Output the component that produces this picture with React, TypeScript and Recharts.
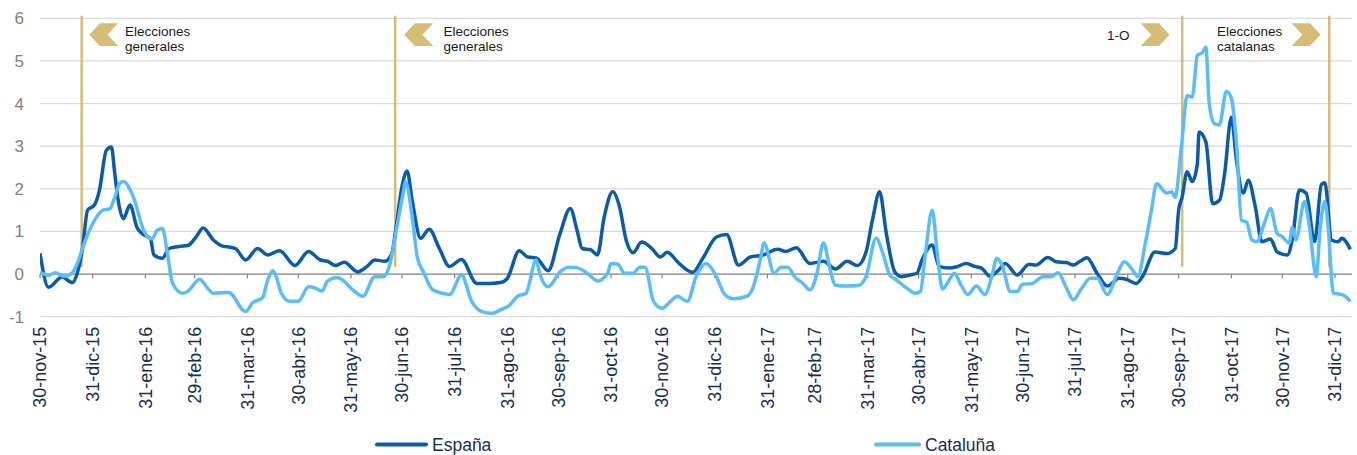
import React from 'react';
import { LineChart, Line, XAxis, YAxis, CartesianGrid, ReferenceLine } from 'recharts';

// x = days since 30-nov-2015
const tickDays = [0, 31, 62, 91, 122, 152, 183, 213, 244, 275, 305, 336, 366, 397, 428, 456, 487, 517, 548, 578, 609, 640, 670, 701, 731, 762];
const tickLabels = ['30-nov-15', '31-dic-15', '31-ene-16', '29-feb-16', '31-mar-16', '30-abr-16', '31-may-16', '30-jun-16', '31-jul-16', '31-ago-16', '30-sep-16', '31-oct-16', '30-nov-16', '31-dic-16', '31-ene-17', '28-feb-17', '31-mar-17', '30-abr-17', '31-may-17', '30-jun-17', '31-jul-17', '31-ago-17', '30-sep-17', '31-oct-17', '30-nov-17', '31-dic-17'];
const yTicks = [-1, 0, 1, 2, 3, 4, 5, 6];

const espana: [number, number][] = [
  [0, 0.49], [5, -0.31], [13, -0.07], [19, -0.2], [22, 0.03], [25, 0.6], [28, 1.5], [32, 1.62], [35, 1.97], [39, 2.9],
  [42, 2.98], [44, 2.36], [46, 1.73], [49, 1.3], [53, 1.62], [57, 1.1], [60, 0.95], [65, 0.83], [67, 0.45], [72, 0.37],
  [76, 0.6], [82, 0.65], [87, 0.67], [92, 0.88], [96, 1.08], [102, 0.8], [108, 0.65], [112, 0.63], [115, 0.6], [121, 0.33],
  [128, 0.6], [134, 0.45], [141, 0.55], [150, 0.2], [158, 0.53], [165, 0.33], [169, 0.3], [174, 0.2], [179, 0.28], [187, 0.05],
  [193, 0.2], [197, 0.33], [203, 0.3], [207, 0.48], [209, 0.95], [213, 2.05], [216, 2.42], [219, 1.73], [224, 0.84], [229, 1.05],
  [235, 0.6], [241, 0.18], [248, 0.34], [257, -0.22], [265, -0.22], [271, -0.2], [275, -0.1], [282, 0.55], [287, 0.4], [292, 0.38],
  [299, 0.08], [306, 0.95], [312, 1.54], [316, 1.03], [319, 0.6], [324, 0.57], [328, 0.45], [332, 1.34], [337, 1.93], [341, 1.58],
  [345, 0.78], [349, 0.5], [354, 0.75], [360, 0.6], [365, 0.4], [369, 0.51], [376, 0.25], [384, 0.04], [390, 0.37], [398, 0.87],
  [404, 0.93], [411, 0.21], [418, 0.4], [425, 0.44], [434, 0.58], [439, 0.53], [445, 0.62], [453, 0.25], [461, 0.3], [468, 0.12],
  [475, 0.3], [481, 0.2], [486, 0.51], [490, 1.3], [494, 1.93], [498, 0.95], [503, 0.05], [507, -0.06], [512, -0.02], [516, 0.02],
  [519, 0.33], [525, 0.68], [529, 0.18], [535, 0.14], [540, 0.18], [545, 0.25], [550, 0.18], [554, 0.14], [559, -0.05], [564, 0.09],
  [568, 0.25], [575, -0.02], [582, 0.23], [586, 0.21], [593, 0.39], [598, 0.29], [604, 0.27], [608, 0.21], [612, 0.3], [616, 0.38],
  [622, 0.02], [628, -0.28], [635, -0.1], [639, -0.12], [645, -0.22], [649, -0.04], [656, 0.52], [663, 0.48], [668, 0.6], [670, 1.5],
  [672, 1.8], [675, 2.4], [678, 2.17], [681, 2.59], [682, 3.33], [686, 3.1], [690, 1.65], [694, 1.73], [697, 2.34], [701, 3.68],
  [704, 2.67], [708, 1.9], [711, 2.2], [715, 1.6], [719, 0.76], [724, 0.82], [728, 0.52], [734, 0.45], [737, 0.84], [741, 1.97],
  [745, 1.9], [750, 0.76], [754, 2.1], [756, 2.14], [760, 0.8], [764, 0.76], [766, 0.84], [771, 0.58],
];

const cataluna: [number, number][] = [
  [0, 0.05], [5, -0.03], [9, 0.03], [14, -0.05], [19, 0.03], [22, 0.25], [26, 0.72], [34, 1.38], [37, 1.5], [41, 1.53],
  [44, 1.8], [47, 2.13], [49, 2.17], [55, 1.8], [61, 1.03], [64, 0.85], [66, 0.83], [69, 1.03], [72, 1.07], [75, 0.48],
  [78, -0.22], [84, -0.45], [87, -0.4], [94, -0.12], [98, -0.3], [102, -0.45], [111, -0.43], [121, -0.88], [125, -0.68], [131, -0.55],
  [134, -0.14], [137, 0.08], [139, -0.06], [142, -0.45], [147, -0.64], [152, -0.64], [158, -0.3], [162, -0.33], [166, -0.4], [169, -0.17],
  [175, -0.08], [178, -0.14], [184, -0.37], [190, -0.52], [197, -0.06], [202, -0.06], [206, 0.25], [210, 1.1], [214, 1.97], [215, 2.17],
  [219, 1.34], [222, 0.4], [226, 0.02], [231, -0.37], [238, -0.46], [241, -0.48], [248, -0.02], [254, -0.64], [260, -0.88], [266, -0.92],
  [271, -0.84], [276, -0.74], [281, -0.52], [286, -0.45], [292, 0.33], [294, 0.02], [299, -0.3], [306, 0.05], [311, 0.16], [316, 0.15],
  [322, 0.02], [328, -0.16], [334, 0.02], [336, 0.25], [340, 0.23], [344, 0.02], [349, 0.02], [353, 0.16], [356, 0.16], [361, -0.64],
  [366, -0.8], [371, -0.64], [375, -0.52], [381, -0.64], [386, -0.06], [392, 0.25], [397, 0.02], [403, -0.48], [408, -0.58], [416, -0.52],
  [419, -0.37], [424, 0.37], [426, 0.73], [432, 0.02], [436, 0.16], [440, 0.16], [444, -0.06], [449, -0.22], [453, -0.37], [457, -0.02],
  [461, 0.73], [465, 0.09], [468, -0.26], [475, -0.28], [482, -0.26], [486, -0.06], [492, 0.84], [496, 0.48], [500, -0.02], [504, -0.14],
  [510, -0.33], [515, -0.45], [518, -0.41], [521, 0.48], [525, 1.5], [528, 0.48], [531, -0.35], [535, -0.14], [538, 0.02], [542, -0.26],
  [546, -0.48], [551, -0.28], [556, -0.48], [560, -0.06], [563, 0.37], [566, 0.22], [571, -0.41], [575, -0.41], [578, -0.24], [584, -0.22],
  [590, -0.06], [595, -0.06], [599, 0.03], [604, -0.33], [608, -0.6], [613, -0.33], [618, -0.1], [622, -0.1], [628, -0.48], [634, 0.02],
  [638, 0.29], [643, 0.09], [646, -0.06], [650, 0.64], [654, 1.5], [657, 2.12], [663, 1.9], [666, 1.93], [668, 1.8], [671, 2.75],
  [672, 3.14], [675, 4.19], [678, 4.15], [681, 5.13], [684, 5.2], [686, 5.32], [688, 4.0], [691, 3.53], [694, 3.5], [698, 4.28],
  [701, 4.13], [704, 3.08], [707, 1.26], [710, 1.22], [713, 0.8], [716, 0.76], [721, 1.26], [724, 1.54], [728, 0.95], [731, 0.88],
  [735, 0.73], [737, 1.1], [739, 0.8], [744, 1.7], [747, 1.1], [751, -0.06], [753, 0.95], [756, 1.7], [758, 1.1], [761, -0.45],
  [765, -0.47], [768, -0.52], [771, -0.64],
];

const seriesNames = ['España', 'Cataluña'];
const seriesColors = ['#0c5ba9', '#5bbdf6'];

const eventDays = [24.5, 209, 672.1, 758.6];
const eventTexts = [['Elecciones', 'generales'], ['Elecciones', 'generales'], ['1-O'], ['Elecciones', 'catalanas']];
const eventDirs = ['left', 'left', 'right', 'right'];

// annotation layout (offsets relative to the event line)
const eventChevronX = [7.6, 9, -41.6, -37.6];
const eventTextX = [43.3, 48.3, -52.8, -112.3];
const eventTextAnchor = ['start', 'start', 'end', 'start'];

const GOLD = '#d6bc74';
const FONT = '"Liberation Sans", Arial, sans-serif';

const toData = (pairs: [number, number][]) => pairs.map(([d, v]) => ({ d, v }));

const XTick = (props: any) => {
  const { x, y, payload } = props;
  const idx = tickDays.indexOf(payload.value);
  return (
    <text
      transform={`translate(${x},${y + 10}) rotate(-90)`}
      textAnchor="end"
      dy="0.35em"
      fontSize={18}
      fontFamily={FONT}
      fill="#1b2d4f"
    >
      {tickLabels[idx]}
    </text>
  );
};

const makeEventLabel = (i: number) => (props: any) => {
  const vb = props.viewBox || {};
  const L = vb.x;
  const top = vb.y;
  const cy = top + 7.6;
  const h = 22.7;
  const a = L + eventChevronX[i];
  const w = 29;
  let pts: string;
  if (eventDirs[i] === 'left') {
    pts = [
      [a, cy + h / 2], [a + 10.7, cy], [a + w, cy], [a + 18.3, cy + h / 2], [a + w, cy + h], [a + 10.7, cy + h],
    ].map((p) => p.join(',')).join(' ');
  } else {
    pts = [
      [a, cy], [a + 18.3, cy], [a + w, cy + h / 2], [a + 18.3, cy + h], [a, cy + h], [a + 10.7, cy + h / 2],
    ].map((p) => p.join(',')).join(' ');
  }
  const lines = eventTexts[i];
  const tx = L + eventTextX[i];
  return (
    <g>
      <polygon points={pts} fill={GOLD} />
      {lines.length === 1 ? (
        <text x={tx} y={top + 23.8} fontSize={13.5} fontFamily={FONT} fill="#1a1a1a" textAnchor={eventTextAnchor[i] as any}>
          {lines[0]}
        </text>
      ) : (
        lines.map((t, k) => (
          <text key={k} x={tx} y={top + 19.8 + k * 15} fontSize={13.5} fontFamily={FONT} fill="#1a1a1a" textAnchor={eventTextAnchor[i] as any}>
            {t}
          </text>
        ))
      )}
    </g>
  );
};

const legendLineX = [375, 874];
const legendTextX = [432, 925];

export default function App() {
  const espData = toData(espana);
  const catData = toData(cataluna);
  const datasets = [espData, catData];
  return (
    <div style={{ position: 'absolute', left: 0, top: 0, width: 1357, height: 455, background: '#fff' }}>
      <LineChart width={1357} height={455} margin={{ top: 18.3, right: 5, left: 0, bottom: 38.3 }}>
        <CartesianGrid horizontal vertical={false} stroke="#d9d9d9" strokeWidth={1.3} />
        <XAxis
          dataKey="d"
          type="number"
          domain={[0, 772]}
          ticks={tickDays}
          interval={0}
          allowDataOverflow
          axisLine={false}
          tickLine={false}
          tickSize={0}
          tickMargin={0}
          height={100}
          tick={<XTick />}
        />
        <YAxis
          type="number"
          domain={[-1, 6]}
          ticks={yTicks}
          interval={0}
          width={40}
          axisLine={false}
          tickLine={false}
          tickSize={0}
          tickMargin={16}
          tick={{ fontSize: 17, fill: '#808080', fontFamily: FONT }}
        />
        <ReferenceLine y={0} stroke="#8c8c8c" strokeWidth={1.3} />
        {tickDays.map((d) => (
          <ReferenceLine
            key={'t' + d}
            segment={[{ x: d, y: 0 }, { x: d, y: -0.1 }]}
            stroke="#8c8c8c"
            strokeWidth={1.3}
          />
        ))}
        {eventDays.map((d, i) => (
          <ReferenceLine
            key={'e' + i}
            segment={[{ x: d, y: 0.17 }, { x: d, y: 6.06 }]}
            stroke={GOLD}
            strokeWidth={2.5}
            ifOverflow="visible"
            label={makeEventLabel(i)}
          />
        ))}
        {datasets.map((data, i) => (
          <Line
            key={seriesNames[i]}
            data={data}
            dataKey="v"
            name={seriesNames[i]}
            type="monotone"
            stroke={seriesColors[i]}
            strokeWidth={3.5}
            dot={false}
            activeDot={false}
            isAnimationActive={false}
          />
        ))}
      </LineChart>
      <svg width={1357} height={455} style={{ position: 'absolute', left: 0, top: 0, pointerEvents: 'none' }}>
        {seriesNames.map((n, i) => (
          <g key={n}>
            <line x1={legendLineX[i] + 2} x2={legendTextX[i] - 6} y1={444.5} y2={444.5} stroke={seriesColors[i]} strokeWidth={4} strokeLinecap="round" />
            <text x={legendTextX[i]} y={450.5} fontSize={17.5} fontFamily={FONT} fill="#1b2d4f">
              {n}
            </text>
          </g>
        ))}
      </svg>
    </div>
  );
}
